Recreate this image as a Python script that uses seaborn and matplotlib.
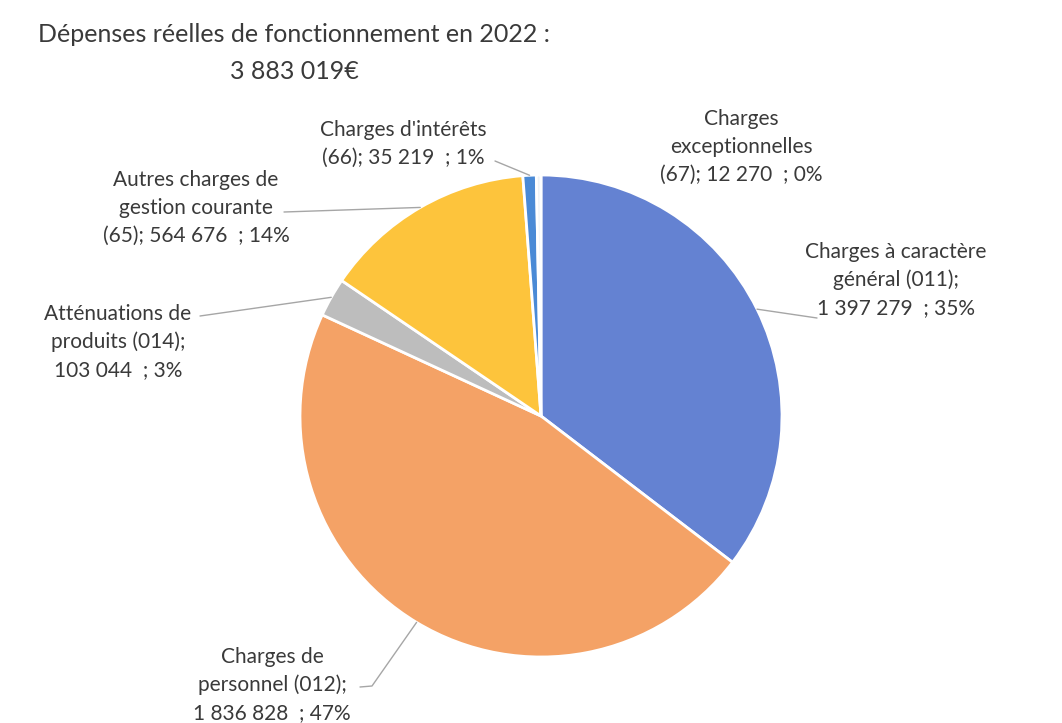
import numpy as np
import seaborn as sns
import matplotlib.pyplot as plt

# Données (chapitres budgétaires)
noms = ["Charges à caractère\ngénéral (011)", "Charges de\npersonnel (012)", "Atténuations de\nproduits (014)",
        "Autres charges de\ngestion courante\n(65)", "Charges d'intérêts\n(66)", "Charges\nexceptionnelles\n(67)"]
seps = [";\n", ";\n", ";\n", "; ", "; ", "; "]
valeurs = [1397279, 1836828, 103044, 564676, 35219, 12270]
couleurs = ["#6482d2", "#f4a266", "#bdbdbd", "#fdc43c", "#4a8ad6", "#eef2f6"]

# position des étiquettes (pixels) et départ des traits de rappel
pos_txt = [(896, 280), (272, 685), (118, 342), (196, 208), (403, 144), (741, 147)]
pos_trait = [[(817, 318)], [(360, 687), (372, 686)], [(200, 316)], [(284, 212)], [(495, 161)], None]

sns.set_theme(style="white")
plt.rcParams["font.family"] = ["Lato", "DejaVu Sans"]

cx, cy, r = 541, 416, 241
W, H = 1062, 723

def px(x, y):
    return ((x - cx) / r, (cy - y) / r)

fig = plt.figure(figsize=(10.62, 7.23), dpi=100)
ax = fig.add_axes([(cx - r) / W, (H - cy - r) / H, 2 * r / W, 2 * r / H])

wedges, _ = ax.pie(valeurs, colors=couleurs, startangle=90, counterclock=False,
                   wedgeprops=dict(edgecolor="white", linewidth=2))
ax.set_aspect("auto")
ax.set_xlim(-1, 1)
ax.set_ylim(-1, 1)
ax.axis("off")

total = sum(valeurs)
def fmt(v):
    return f"{v:,}".replace(",", " ")

for w, nom, sep, v, pt, tr in zip(wedges, noms, seps, valeurs, pos_txt, pos_trait):
    lab = f"{nom}{sep}{fmt(v)}  ; {round(100 * v / total)}%"
    x, y = px(*pt)
    ax.text(x, y, lab, ha="center", va="center", fontsize=15, color="#3a3a3a",
            linespacing=1.5, clip_on=False)
    if tr is not None:
        a = np.deg2rad((w.theta1 + w.theta2) / 2)
        xs = [px(*p)[0] for p in tr] + [np.cos(a)]
        ys = [px(*p)[1] for p in tr] + [np.sin(a)]
        ax.plot(xs, ys, color="#a6a6a6", lw=1, clip_on=False)

fig.text(294 / W, 1 - 53 / H, "Dépenses réelles de fonctionnement en 2022 :\n3 883 019€",
         ha="center", va="center", fontsize=18, color="#3a3a3a", linespacing=1.75)

fig.savefig("out.png", dpi=100, facecolor="white")
